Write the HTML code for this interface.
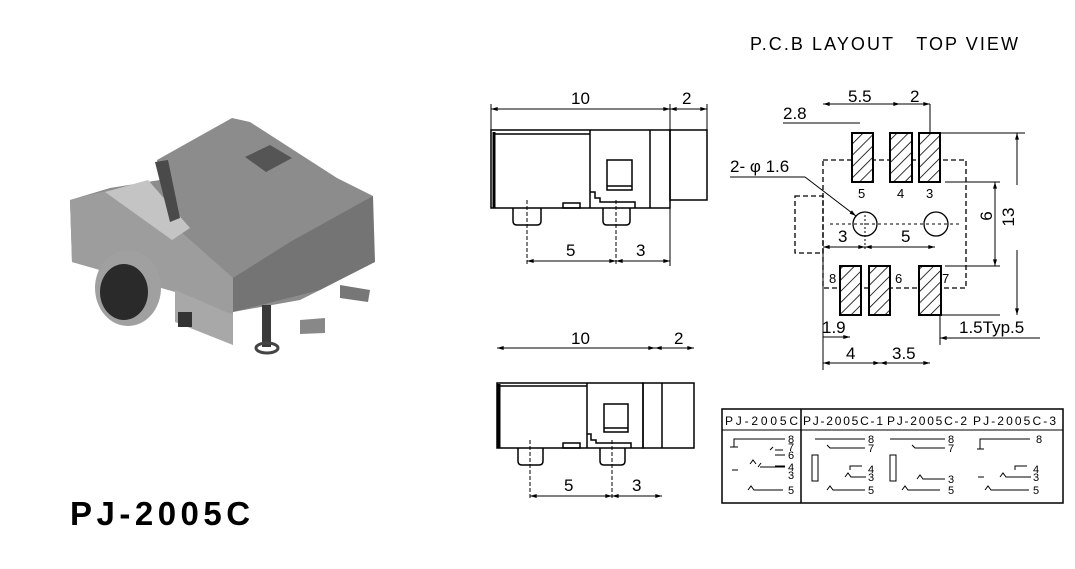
<!DOCTYPE html>
<html><head><meta charset="utf-8"><style>
html,body{margin:0;padding:0;background:#fff;}
svg{display:block;font-family:"Liberation Sans",sans-serif;}
</style></head><body>
<svg width="1075" height="569" viewBox="0 0 1075 569" xmlns="http://www.w3.org/2000/svg">
<defs>
<marker id="a" viewBox="0 0 10 6" refX="10" refY="3" markerWidth="9" markerHeight="4" orient="auto-start-reverse"><path d="M0,0L10,3L0,6z" fill="#000"/></marker>
<pattern id="h" width="8" height="8" patternUnits="userSpaceOnUse" patternTransform="rotate(-45)"><rect width="8" height="8" fill="#fff"/><line x1="0" y1="0" x2="8" y2="0" stroke="#000" stroke-width="1.6"/></pattern>
</defs>
<rect width="1075" height="569" fill="#fff"/>

<!-- photo -->
<g>
<polygon points="70,200 110,188 160,180 157,160 232,118 250,122 337,178 373,196 373,262 320,290 300,300 233,312 175,290 72,262" fill="#8c8c8c"/>
<polygon points="233,278 290,242 373,196 375,262 320,290 233,312" fill="#747474"/>
<polygon points="70,200 110,190 170,222 233,278 233,315 175,292 72,262" fill="#9d9d9d"/>
<polygon points="105,192 148,180 190,228 172,240" fill="#c4c4c4"/>
<polygon points="155,162 168,160 180,218 170,222" fill="#4a4a4a"/>
<polygon points="245,157 270,145 292,158 266,172" fill="#555"/>
<polygon points="175,290 233,315 233,345 175,322" fill="#a8a8a8"/>
<rect x="178" y="312" width="14" height="15" fill="#333"/>
<ellipse cx="128" cy="288" rx="33" ry="38" fill="#a0a0a0"/>
<ellipse cx="124" cy="292" rx="24" ry="28" fill="#2a2a2a"/>
<polygon points="340,285 370,290 368,302 340,298" fill="#777"/>
<polygon points="300,320 325,318 325,333 300,334" fill="#888"/>
<rect x="262" y="305" width="9" height="42" fill="#3a3a3a"/>
<ellipse cx="267" cy="348" rx="11" ry="5" fill="none" stroke="#444" stroke-width="3"/>
</g>
<text x="70" y="525" font-size="33" font-weight="bold" letter-spacing="4.5">PJ-2005C</text>

<!-- Front view 1 -->
<g stroke="#000" fill="none" stroke-width="1.5">
<rect x="491" y="130" width="179" height="78"/>
<rect x="670" y="130" width="37" height="70"/>
<line x1="590" y1="130" x2="590" y2="208"/>
<line x1="650" y1="130" x2="650" y2="208"/>
<line x1="494" y1="134" x2="590" y2="134"/>
<line x1="494" y1="132" x2="494" y2="208" stroke-width="3"/>
<rect x="607" y="160" width="25" height="30"/>
<line x1="607" y1="186" x2="632" y2="186"/>
<path d="M513,208v13q0,4 4,4h20q4,0 4,-4v-13"/>
<path d="M603,208v13q0,4 4,4h19q4,0 4,-4v-13"/>
<rect x="563" y="203" width="17" height="5"/>
<path d="M590,192h5v6h5v4h35v6"/>
<g stroke-width="1"><line x1="491" y1="104" x2="491" y2="130"/><line x1="670" y1="104" x2="670" y2="130"/><line x1="707" y1="104" x2="707" y2="200"/>
<line x1="491" y1="109" x2="670" y2="109" marker-start="url(#a)" marker-end="url(#a)"/>
<line x1="670" y1="109" x2="707" y2="109" marker-start="url(#a)" marker-end="url(#a)"/>
<line x1="527" y1="200" x2="527" y2="266" stroke-dasharray="4,2"/><line x1="616" y1="200" x2="616" y2="266" stroke-dasharray="4,2"/><line x1="670" y1="200" x2="670" y2="266"/>
<line x1="527" y1="261" x2="616" y2="261" marker-start="url(#a)" marker-end="url(#a)"/>
<line x1="616" y1="261" x2="670" y2="261" marker-start="url(#a)" marker-end="url(#a)"/></g>
</g>
<g font-size="17" fill="#000"><text x="571" y="104">10</text><text x="682" y="104">2</text><text x="566" y="256">5</text><text x="636" y="256">3</text></g>

<!-- Front view 2 -->
<g stroke="#000" fill="none" stroke-width="1.5">
<rect x="497" y="383" width="146" height="65"/>
<rect x="643" y="383" width="51" height="65"/>
<line x1="587" y1="383" x2="587" y2="448"/>
<line x1="662" y1="383" x2="662" y2="448"/>
<line x1="499" y1="386" x2="587" y2="386"/>
<line x1="499" y1="384" x2="499" y2="448" stroke-width="3"/>
<rect x="604" y="404" width="24" height="28"/>
<line x1="604" y1="428" x2="628" y2="428"/>
<path d="M518,448v13q0,4 4,4h17q4,0 4,-4v-13"/>
<path d="M600,448v13q0,4 4,4h17q4,0 4,-4v-13"/>
<rect x="563" y="443" width="17" height="5"/>
<path d="M587,434h4v6h5v3h35v5"/>
<g stroke-width="1">
<line x1="497" y1="348" x2="655" y2="348" marker-start="url(#a)" marker-end="url(#a)"/>
<line x1="655" y1="348" x2="694" y2="348" marker-start="url(#a)" marker-end="url(#a)"/>
<line x1="530" y1="440" x2="530" y2="500" stroke-dasharray="4,2"/><line x1="612" y1="440" x2="612" y2="500" stroke-dasharray="4,2"/>
<line x1="530" y1="496" x2="612" y2="496" marker-start="url(#a)" marker-end="url(#a)"/>
<line x1="612" y1="496" x2="662" y2="496" marker-start="url(#a)" marker-end="url(#a)"/></g>
</g>
<g font-size="17" fill="#000"><text x="571" y="344">10</text><text x="674" y="344">2</text><text x="564" y="491">5</text><text x="632" y="491">3</text></g>

<!-- PCB layout -->
<text x="750" y="50" font-size="18" textLength="268" lengthAdjust="spacing">P.C.B LAYOUT&#160;&#160;&#160;TOP VIEW</text>
<g stroke="#000" fill="none" stroke-width="1.3">
<rect x="823" y="160" width="143" height="128" stroke-dasharray="5,3"/>
<rect x="795" y="196" width="28" height="57" stroke-dasharray="5,3"/>
<g fill="url(#h)" stroke-width="2">
<rect x="852" y="133" width="21" height="49"/><rect x="890" y="133" width="22" height="49"/><rect x="919" y="133" width="21" height="49"/>
<rect x="840" y="266" width="21" height="49"/><rect x="869" y="266" width="21" height="49"/><rect x="919" y="266" width="22" height="49"/>
</g>
<circle cx="865" cy="224" r="12" fill="#fff"/><circle cx="936" cy="224" r="12" fill="#fff"/>
<g stroke-width="1">
<line x1="823" y1="104" x2="900" y2="104" marker-start="url(#a)" marker-end="url(#a)"/>
<line x1="900" y1="104" x2="930" y2="104" marker-end="url(#a)"/>
<line x1="930" y1="104" x2="930" y2="133"/>
<line x1="783" y1="123" x2="860" y2="123"/>
<line x1="730" y1="177" x2="805" y2="177"/><line x1="805" y1="177" x2="856" y2="216" marker-end="url(#a)"/>
<line x1="940" y1="133" x2="1025" y2="133"/><line x1="945" y1="182" x2="1000" y2="182"/><line x1="945" y1="266" x2="1000" y2="266"/><line x1="941" y1="315" x2="1000" y2="315"/>
<line x1="1017" y1="133" x2="1017" y2="185" marker-start="url(#a)"/><line x1="1017" y1="250" x2="1017" y2="315" marker-end="url(#a)"/>
<line x1="995" y1="182" x2="995" y2="266" marker-start="url(#a)" marker-end="url(#a)"/>
<line x1="823" y1="247" x2="865" y2="247" marker-start="url(#a)" marker-end="url(#a)"/>
<line x1="865" y1="247" x2="935" y2="247" marker-start="url(#a)" marker-end="url(#a)"/>
<line x1="823" y1="253" x2="823" y2="370"/><line x1="940" y1="315" x2="940" y2="345"/>
<line x1="823" y1="337" x2="850" y2="337" marker-end="url(#a)"/>
<line x1="940" y1="338" x2="1040" y2="338" marker-start="url(#a)"/>
<line x1="823" y1="363" x2="880" y2="363" marker-start="url(#a)" marker-end="url(#a)"/>
<line x1="880" y1="363" x2="930" y2="363" marker-start="url(#a)" marker-end="url(#a)"/>
<line x1="865" y1="215" x2="865" y2="250" stroke-dasharray="2,2"/>
<line x1="830" y1="224" x2="960" y2="224" stroke-dasharray="3,3"/>
</g>
</g>
<g font-size="17" fill="#000">
<text x="848" y="102">5.5</text><text x="910" y="102">2</text><text x="783" y="119">2.8</text>
<text x="730" y="172">2- &#966; 1.6</text>
<text x="838" y="242">3</text><text x="901" y="242">5</text>
<text x="822" y="333">1.9</text><text x="959" y="333">1.5Typ.5</text>
<text x="846" y="359">4</text><text x="892" y="359">3.5</text>
<text transform="translate(992,216) rotate(-90)" text-anchor="middle">6</text>
<text transform="translate(1014,217) rotate(-90)" text-anchor="middle">13</text>
</g>
<g font-size="13" fill="#000"><text x="858" y="198">5</text><text x="897" y="198">4</text><text x="926" y="198">3</text>
<text x="829" y="283">8</text><text x="895" y="283">6</text><text x="942" y="283">7</text></g>

<!-- table -->
<g stroke="#000" fill="none">
<rect x="722" y="409" width="341" height="94" stroke-width="1.5"/>
<line x1="722" y1="430" x2="1063" y2="430"/>
<line x1="801" y1="409" x2="801" y2="503" stroke-width="1.5"/>
<g stroke-width="1">
<path d="M785,439H734v8M730,447h8M783,450H775M770,450l3,-3M738,470h-6M750,464l3,-4l3,4M758,467l3,-4M760,467h25M748,490l3,-4l3,4h29M775,455h10M775,466h10"/>
<path d="M865,439H815M865,448H830l-3,-3M812,455h6v26h-6z M850,470v-4h12M845,477l3,-4l3,4h15M827,490l3,-4l3,4h32"/>
<path d="M945,439H890M945,448H915l-3,-3M890,455h6v26h-6z M917,479l3,-4l3,4h22M902,490l3,-4l3,4h32"/>
<path d="M1030,439H980v10M977,449h7M1015,470v-4h12M1000,477l3,-4l3,4h25M985,490l3,-4l3,4h38M978,477h6"/>
</g>
</g>
<g font-size="12" fill="#000">
<text x="725" y="425" textLength="73">PJ-2005C</text><text x="803" y="425" textLength="80">PJ-2005C-1</text><text x="887" y="425" textLength="80">PJ-2005C-2</text><text x="973" y="425" textLength="83">PJ-2005C-3</text>
<g font-size="11"><text x="788" y="443">8</text><text x="788" y="451">7</text><text x="788" y="459">6</text><text x="788" y="471">4</text><text x="788" y="479">3</text><text x="788" y="494">5</text>
<text x="868" y="443">8</text><text x="868" y="452">7</text><text x="868" y="473">4</text><text x="868" y="481">3</text><text x="868" y="494">5</text>
<text x="948" y="443">8</text><text x="948" y="452">7</text><text x="948" y="483">3</text><text x="948" y="494">5</text>
<text x="1036" y="443">8</text><text x="1033" y="473">4</text><text x="1033" y="481">3</text><text x="1033" y="494">5</text></g>
</g>
</svg>
</body></html>
